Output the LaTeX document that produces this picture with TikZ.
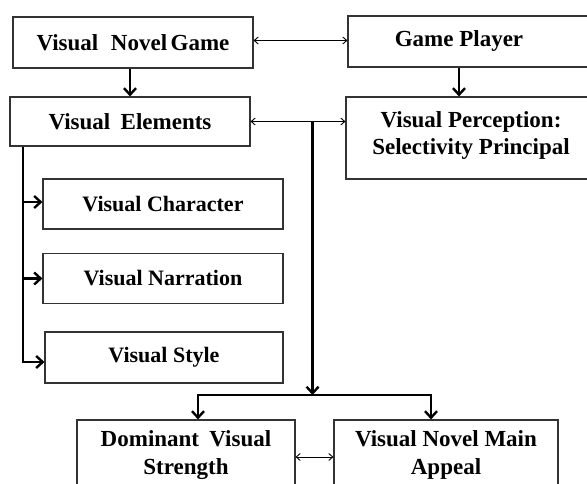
\documentclass[tikz,border=0pt]{standalone}
\usepackage{fontspec}
\setmainfont{Liberation Serif}
\usetikzlibrary{arrows.meta,positioning}
\tikzset{blockbox/.style={
    % The shape:
    rectangle,
    inner sep=0pt,
    % The border:
    line width=1.1pt,
    draw=black!80,
    % Font
    font=\fontsize{23}{28}\selectfont\bfseries,
    align=center
    },
    blocktext/.style={
    inner sep=0pt,
    font=\fontsize{23}{27}\selectfont\bfseries,
    align=center
    },
    subbox/.style={
    blockbox,
    minimum width=240pt,
    minimum height=50pt,
    font=\fontsize{22}{26}\selectfont\bfseries
    },
    twoway/.style={line width=0.9pt,
    {Straight Barb[length=4pt,width=7pt]}-{Straight Barb[length=4pt,width=7pt]}},
    flow/.style={line width=2.4pt, -{Straight Barb[length=6.5pt,width=12pt]}},
}

\begin{document}
\begin{tikzpicture}[x=1pt,y=-1pt]
    \useasboundingbox (0,0) rectangle (587,484);
    \clip (0,0) rectangle (587,484);

    \node (vng)    [blockbox,minimum width=240pt,minimum height=51pt] at (133,42.5) {Visual\hspace{0.3em} Novel\hspace{-0.1em} Game};
    \node (gp)     [blockbox,minimum width=262pt,minimum height=51pt] at (479,41.5) {};
    \node (gptext) [blocktext] at (459,41.5) {Game Player};

    \node (ve)     [blockbox,minimum width=240pt,minimum height=49pt] at (130,121.5) {Visual\hspace{0.2em} Elements};
    \node (vp)     [blockbox,minimum width=262pt,minimum height=82pt] at (477,138) {};
    \node (vptext) [blocktext] at (471,136) {Visual Perception:\\Selectivity Principal};

    \node (vc) [subbox] at (163,204)   {Visual Character};
    \node (vn) [subbox] at (163,278.5) {Visual Narration};
    \node (vs) [subbox,minimum width=238pt,minimum height=51pt] at (164,357.5) {Visual Style};

    \node (dvs)  [blockbox,minimum width=218pt,minimum height=70pt] at (186,455) {Dominant\hspace{0.2em} Visual\\Strength};
    \node (vnma) [blockbox,minimum width=224pt,minimum height=70pt] at (446,455) {Visual Novel Main\\Appeal};

    % top row
    \draw[twoway] ([yshift=2pt]vng.east) -- ([yshift=2pt]vng.east -| gp.west);
    \draw[flow] (vng.south -| ve.north) -- (ve.north);
    \draw[flow] (gp.south -| gptext) -- (vp.north -| gptext);
    \draw[twoway] (ve.east) -- (ve.east -| vp.west);

    % left branch
    \coordinate (trunk) at ([xshift=-107pt]ve.south);
    \draw[flow] (trunk) |- ([yshift=2pt]vc.west);
    \draw[flow] (trunk) |- (vn.west);
    \draw[flow] (trunk) |- ([yshift=-4.5pt]vs.west);

    % middle branch
    \coordinate (split) at ([xshift=62pt]ve.east);
    \coordinate (join)  at ([yshift=-273.5pt]split);
    \draw[flow] (split) -- (join);
    \draw[flow] (join) -| ([xshift=12pt]dvs.north);
    \draw[flow] (join) -| ([xshift=-15pt]vnma.north);
    \draw[twoway] ([yshift=-2pt]dvs.east) -- ([yshift=-2pt]vnma.west);
\end{tikzpicture}
\end{document}
